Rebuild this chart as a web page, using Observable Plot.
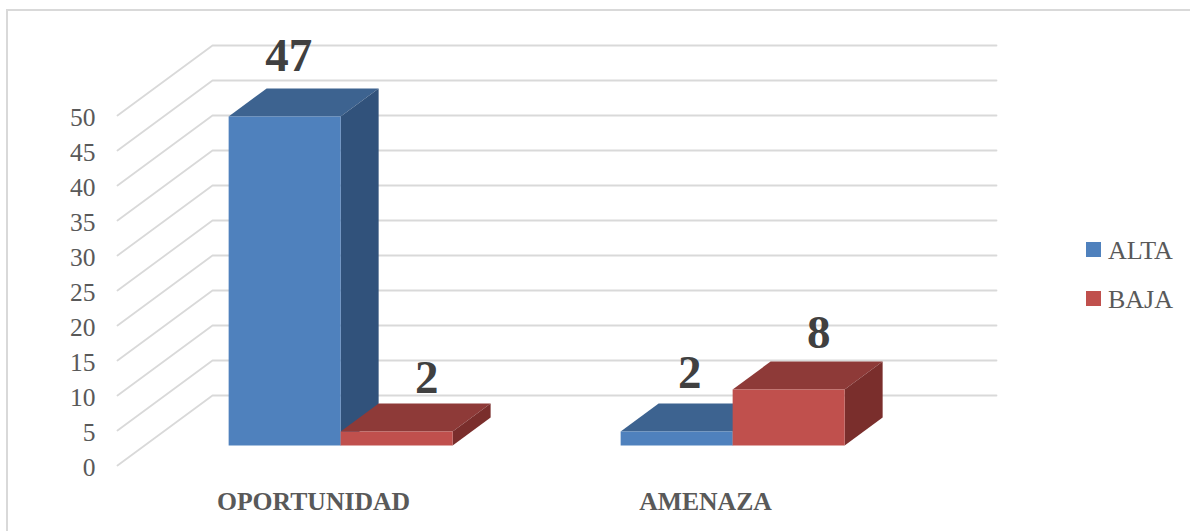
<!DOCTYPE html>
<html>
<head>
<meta charset="utf-8">
<script src="https://cdn.jsdelivr.net/npm/d3@7"></script>
<script src="https://cdn.jsdelivr.net/npm/@observablehq/plot@0.6"></script>
<style>
  html, body { margin: 0; padding: 0; background: #fff; overflow: hidden; }
  #wrap { position: relative; width: 1190px; height: 531px; overflow: hidden; font-family: "Liberation Serif", serif; }
  #frame { position: absolute; left: 6px; top: 9px; width: 1300px; height: 700px; border: 2px solid #d9d9d9; box-sizing: border-box; }
  #chart { position: absolute; left: 0; top: 0; }
  .sw { position: absolute; left: 1086px; width: 15px; height: 15px; }
  .lb { position: absolute; left: 1108px; font-size: 26px; line-height: 30px; color: #595959; }
</style>
</head>
<body>
<div id="wrap">
  <div id="frame"></div>
  <div id="chart"></div>
</div>
<script>
// Data
const categories = ["OPORTUNIDAD", "AMENAZA"];
const seriesNames = ["ALTA", "BAJA"];
const alta = [47, 2];
const baja = [2, 8];
const tickValues = [0, 5, 10, 15, 20, 25, 30, 35, 40, 45, 50];

// Styles
const faceColors = {
  ALTA: { front: "#4f81bd", top: "#3d6390", side: "#31527b" },
  BAJA: { front: "#c0504d", top: "#8e3a38", side: "#7a2e2c" }
};
const labelOffsets = [
  { dx: 4, dy: -61 }, { dx: 30, dy: -54 },
  { dx: 13, dy: -59 }, { dx: 30, dy: -57 }
];

// Oblique projection of the 3D chart, expressed in data units
const depthX = 95 / 392;   // category widths of wall depth
const depthY = 10;         // value units of wall depth
const px = (x, z) => x + z * depthX;
const py = (v, z) => v + z * depthY;
const barW = 2 / 7;
const z0 = 2 / 7, z1 = z0 + 0.4;

// Walls
const grid = tickValues.flatMap(v => [
  { v, x: px(0, 0), y: py(v, 0) },
  { v, x: px(0, 1), y: py(v, 1) },
  { v, x: px(categories.length, 1), y: py(v, 1) }
]);

// Bar faces
const bars = [];
categories.forEach((c, i) => {
  [alta[i], baja[i]].forEach((v, s) => {
    bars.push({ cat: i, series: seriesNames[s], v, a: i + 0.5 + (s - 1) * barW, b: i + 0.5 + s * barW });
  });
});
const faces = bars.flatMap((d, n) => {
  const col = faceColors[d.series];
  const poly = (face, pts) => pts.map(([x, v, z]) => ({ id: n + face, fill: col[face], x: px(x, z), y: py(v, z) }));
  return [
    ...poly("top", [[d.a, d.v, z0], [d.b, d.v, z0], [d.b, d.v, z1], [d.a, d.v, z1]]),
    ...poly("side", [[d.b, 0, z0], [d.b, d.v, z0], [d.b, d.v, z1], [d.b, 0, z1]]),
    ...poly("front", [[d.a, 0, z0], [d.b, 0, z0], [d.b, d.v, z0], [d.a, d.v, z0]])
  ];
});

const fontFamily = '"Liberation Serif", serif';

const plot = Plot.plot({
  width: 1190,
  height: 531,
  marginLeft: 117,
  marginRight: 194,
  marginTop: 45,
  marginBottom: 66,
  style: { background: "transparent", fontFamily },
  x: { domain: [0, categories.length + depthX] },
  y: { domain: [0, 60] },
  color: { type: "identity" },
  marks: [
    Plot.line(grid, { x: "x", y: "y", z: "v", stroke: "#d9d9d9", strokeWidth: 1.8 }),
    Plot.line(faces, { x: "x", y: "y", z: "id", fill: "fill", stroke: "none", curve: "linear-closed" }),
    Plot.axisY({
      ticks: tickValues, tickSize: 0, tickPadding: 22, label: null, dy: 2,
      fontSize: 25.5, fill: "#595959", tickFormat: d => String(d)
    }),
    Plot.axisX({
      ticks: categories.map((c, i) => i + 0.5),
      tickFormat: d => categories[Math.floor(d)],
      tickSize: 0, tickPadding: 26, label: null,
      fontSize: 25.7, fontWeight: "bold", fill: "#595959"
    }),
    ...bars.map((d, n) => Plot.text([d], {
      x: b => px((b.a + b.b) / 2, z0),
      y: b => py(b.v, z0),
      text: b => String(b.v),
      dx: labelOffsets[n].dx,
      dy: labelOffsets[n].dy,
      fontSize: 47,
      fontWeight: "bold",
      fill: "#404040",
      textAnchor: "middle",
      lineAnchor: "middle"
    }))
  ]
});
document.getElementById("chart").appendChild(plot);

// Legend
const wrap = document.getElementById("wrap");
seriesNames.forEach((name, i) => {
  const sw = document.createElement("div");
  sw.className = "sw";
  sw.style.top = (242 + i * 49) + "px";
  sw.style.background = faceColors[name].front;
  wrap.appendChild(sw);
  const lb = document.createElement("div");
  lb.className = "lb";
  lb.style.top = (236 + i * 49) + "px";
  lb.textContent = name;
  wrap.appendChild(lb);
});
</script>
</body>
</html>
